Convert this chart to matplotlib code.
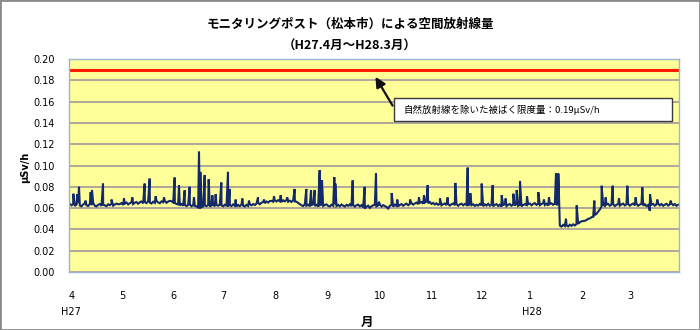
"""Air dose rate at the Matsumoto monitoring post, FY H27 (Apr 2015 - Mar 2016)."""

import matplotlib
matplotlib.use("Agg")
import matplotlib.pyplot as plt
import numpy as np
from matplotlib.patches import Rectangle

# daily mean dose rate, units of 0.0001 uSv/h
apr=[640,626,637,620,633,647,624,617,635,643,626,620,639,628,648,622,616,631,638,621,633,625,618,636,627,640,623,634,642,636]
may=[638,647,630,643,652,635,646,654,638,650,657,641,653,662,645,658,647,664,651,643,660,649,666,653,646,663,655,668,650,662,668]
jun=[664,653,650,638,635,626,638,622,632,619,629,636,617,628,620,617,602,596,610,615,627,618,630,614,625,632,617,629,622,633]
jul=[626,617,632,620,613,630,619,635,622,616,629,618,633,623,615,631,620,636,626,638,629,642,647,636,651,657,646,662,652,666,668]
aug=[660,672,662,675,664,657,673,663,676,660,670,658,674,662,660,648,638,626,619,635,623,632,617,629,636,620,631,615,627,633,620]
sep=[629,635,620,616,632,622,637,619,630,617,634,623,615,631,621,636,618,629,614,626,633,616,628,607,595,614,623,602,617,626]
oct_=[630,617,626,634,615,628,619,611,596,622,629,614,632,621,617,630,637,622,634,642,627,639,647,632,644,652,637,649,657,642,652]
nov=[662,646,657,639,649,634,645,630,641,626,637,643,628,639,624,636,644,627,638,622,635,642,626,639,629,623,640,627,636,620]
dec=[632,623,639,626,618,635,624,641,622,633,617,630,637,620,632,615,629,636,619,631,638,622,634,624,640,621,632,617,629,637,628]
jan=[636,643,626,639,647,630,642,627,638,646,629,641,624,639,645,631,642,629,640,436,426,443,431,439,428,444,433,448,437,450,452]
feb=[468,476,479,481,488,499,503,514,519,536,546,568,587,614,630,620,633,640,622,632,639,619,631,638,623,635,642,625,636]
mar=[638,623,635,643,626,639,622,633,641,624,636,618,630,575,632,639,623,635,642,626,638,621,633,640,624,636,643,627,638,622,632]

# short peaks (rain etc.): day counted from 1 Apr, value uSv/h
peak_day=[2.6,5.0,6.0,10.0,13.0,13.8,20.4,25.5,33,38,43,45.4,48.4,52,57,
          63.4,66,69.4,72.4,75,78,78.8,81.4,83.8,86,88,91.4,95.4,96.4,100,104,108,113.4,117,
          123,127,131,135.4,142.4,145.2,147.4,150.4,151.8,159.2,159.8,170.2,177.4,184.2,186,
          193.6,197,204.6,210,213,215.2,222.6,227.2,231.8,239.2,240.8,
          247.6,254.2,259.6,262,266.6,268.6,270.6,274.8,281.6,285,288,292.2,293.6,
          298.2,304.6,315.2,319.6,322,326.2,330,335,340,344,348.6,353,361]
peak_val=[0.0735,0.073,0.080,0.067,0.075,0.077,0.083,0.068,0.069,0.070,0.066,0.083,0.0877,0.071,0.070,
          0.0887,0.0814,0.0767,0.080,0.070,0.113,0.094,0.091,0.087,0.072,0.073,0.084,0.094,0.078,0.068,0.069,0.067,0.070,0.068,
          0.071,0.072,0.070,0.078,0.078,0.077,0.077,0.0956,0.086,0.089,0.083,0.086,0.080,0.0925,0.066,
          0.074,0.068,0.068,0.070,0.072,0.0815,0.069,0.070,0.0836,0.098,0.074,
          0.083,0.0815,0.072,0.069,0.0735,0.077,0.0855,0.071,0.075,0.068,0.070,0.0925,0.0925,
          0.050,0.0625,0.067,0.081,0.070,0.081,0.069,0.081,0.070,0.0795,0.073,0.068,0.067]

month_labels=["4","5","6","7","8","9","10","11","12","1","2","3"]
month_len=[30,31,30,31,31,30,31,30,31,31,29,31]
limit=0.19

daily=np.array(apr+may+jun+jul+aug+sep+oct_+nov+dec+jan+feb+mar)/10000
x=np.concatenate([np.arange(len(daily))+0.5,peak_day]); y=np.concatenate([daily,peak_val])
order=np.argsort(x,kind="stable"); x,y=x[order],y[order]
starts=np.concatenate([[0],np.cumsum(month_len)[:-1]])

cjk=["Noto Sans CJK JP","DejaVu Sans"]
fig=plt.figure(figsize=(7,3.3),dpi=100)
ax=fig.add_axes([69/700,1-272/330,610/700,213/330])
ax.set_facecolor("#FFFF99")
for s in ax.spines.values(): s.set_color("#9DB5D0"); s.set_linewidth(1)
ax.set_ylim(0,0.20); ax.set_xlim(0,366)
ax.set_yticks(np.arange(0,0.201,0.02)); ax.set_yticklabels([f"{v:.2f}" for v in np.arange(0,0.201,0.02)])
ax.grid(axis="y",color="#A8A398",lw=1.3); ax.set_axisbelow(True)
ax.set_xticks(starts); ax.set_xticklabels(month_labels,ha="left")
ax.tick_params(axis="x",length=0,pad=14,labelsize=7)
ax.tick_params(axis="y",length=0,pad=10,labelsize=7)

ax.plot(x,y,color="#14296A",lw=1.5,solid_joinstyle="miter")
ax.axhline(limit,color="#FF1A00",lw=2.2)

for d,t in [(starts[0]+1,"H27"),(starts[9]+2.5,"H28")]:
    ax.text(d,-0.19,t,transform=ax.get_xaxis_transform(),ha="center",va="center",fontsize=7)

# note box for the dose limit
ax.add_patch(Rectangle((325/610,151/213),278/610,23/213,transform=ax.transAxes,fc="white",ec="#3a3a3a",lw=1,zorder=5))
ax.text(334/610,162.5/213,f"自然放射線を除いた被ばく限度量：{limit}μSv/h",transform=ax.transAxes,
        ha="left",va="center",fontsize=6.8,family=cjk,zorder=6)
ax.annotate("",xy=(183,0.1855),xytext=(195,0.154),
            arrowprops=dict(arrowstyle="-|>,head_length=0.6,head_width=0.3",color="#101010",lw=1.6),zorder=6)

fig.text(0.5,1-24/330,"モニタリングポスト（松本市）による空間放射線量",ha="center",va="center",fontsize=9,weight="bold",family=cjk)
fig.text(0.5,1-46/330,"（H27.4月～H28.3月）",ha="center",va="center",fontsize=9,weight="bold",family=cjk)
fig.text(367/700,1-322/330,"月",ha="center",va="center",fontsize=9,weight="bold",family=cjk)
fig.text(25/700,1-167/330,"μSv/h",ha="center",va="center",rotation=90,fontsize=7,weight="bold")
fig.patches.append(Rectangle((0,0),1,1,transform=fig.transFigure,fill=False,ec="#8a8a8a",lw=2))

fig.savefig("out.png",dpi=100)
